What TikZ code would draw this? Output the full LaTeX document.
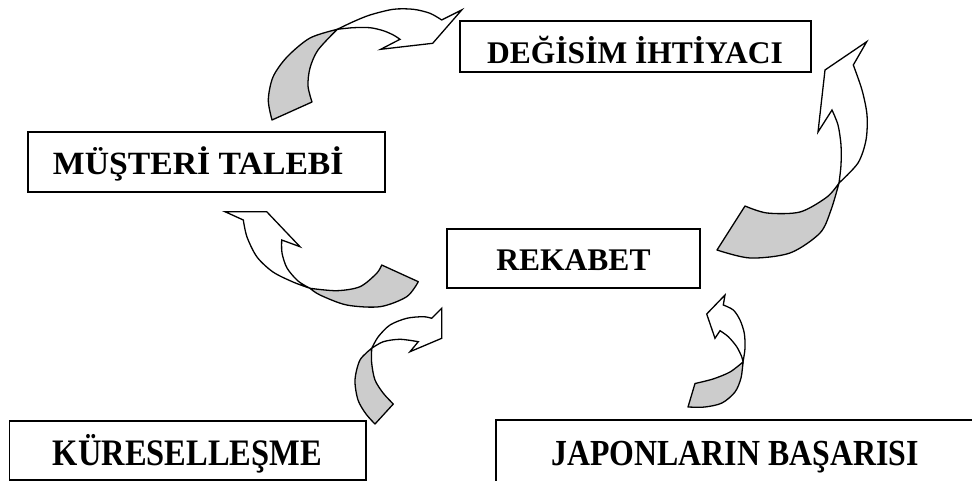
\documentclass[tikz,border=0pt]{standalone}
\usepackage{fontspec}
\setmainfont{Liberation Serif}
\definecolor{ribbon}{HTML}{CCCCCC}
\begin{document}
\begin{tikzpicture}[x=1pt,y=-1pt,
  box/.style={draw, line width=1.7pt, inner sep=0pt},
  lbl/.style={anchor=base, inner sep=0pt, font=\fontsize{31.5}{36}\selectfont\bfseries},
  tall/.style={anchor=base, inner sep=0pt, font=\fontsize{32.5}{36}\selectfont\bfseries},
  back/.style={draw, line width=1.3pt, line join=round, fill=ribbon},
  front/.style={draw, line width=1.3pt, line join=miter, fill=white}]
\clip (0,0) rectangle (972,481);

% frames
\node[box, minimum width=351pt, minimum height=51pt] (dg) at (635.5,46.5) {};
\node[box, minimum width=357pt, minimum height=60pt] (mt) at (206.5,162) {};
\node[box, minimum width=253pt, minimum height=59pt] (rk) at (573.5,258.5) {};
\node[box, minimum width=356.5pt, minimum height=59pt] (kr) at (187.75,450.5) {};
\node[box, minimum width=504pt, minimum height=90pt] (jp) at (748,465) {};

% labels
\node[lbl] (dgt) at (635,63.3) {DEĞİSİM İHTİYACI};
\node[lbl] (mtt) at (198.3,174.3) {\scalebox{1.07}[1.03]{MÜŞTERİ TALEBİ}};
\node[lbl] (rkt) at (573.5,270) {REKABET};
\node[tall] (krt) at (187.5,465) {\scalebox{1}[1.15]{KÜRESELLEŞME}};
\node[tall] (jpt) at (735,465) {\scalebox{0.98}[1.13]{JAPONLARIN BAŞARISI}};

% curved arrow: customer demand -> need for change
\path[back] (272,120) -- plot[smooth] coordinates {(312,102) (308,86) (310,68) (318,50) (337.3,29.3)}
  -- plot[smooth] coordinates {(337.3,29.3) (310,38) (287,57) (273,77) (268.3,100) (272,120)} -- cycle;
\path[front] plot[smooth] coordinates {(337.3,29.3) (353.3,21.7) (370,15) (393.3,9.3) (413.3,9.3) (430,13.3) (441.7,20)}
  -- (461.7,10) -- (432.7,43.3) -- (380.7,49.3) -- (400,39.3)
  -- plot[smooth] coordinates {(400,39.3) (393.3,35) (383.3,30.7) (370,27.7) (353.3,27.7) (337.3,29.3)} -- cycle;

% curved arrow: competition -> need for change
\path[back] (717,250) -- plot[smooth] coordinates {(745,206) (767,213) (800,212) (827,197) (839,183)}
  -- plot[smooth] coordinates {(839,183) (831,210) (820,233) (790,253) (750,258) (717,250)} -- cycle;
\path[front] plot[smooth] coordinates {(839,183) (858,163) (866,140) (867,115) (862,90) (853.3,65)}
  -- (866.7,41.7) -- (825,70) -- (818,132) -- (832,110)
  -- plot[smooth] coordinates {(832,110) (838,125) (841,145) (841,165) (839,183)} -- cycle;

% curved arrow: competition -> customer demand
\path[back] (381.7,265) -- plot[smooth] coordinates {(418.3,281.7) (406.7,296.7) (380,306.7) (346.7,305) (320,295) (310,288.3)}
  -- plot[smooth] coordinates {(310,288.3) (336.7,290.7) (360,286.7) (376.7,273.3) (381.7,265)} -- cycle;
\path[front] plot[smooth] coordinates {(310,288.3) (293,282) (273,272) (257,257) (247,237) (243.3,220)}
  -- (225,211.7) -- (266.7,211.7) -- (300,246.7) -- (281.7,240)
  -- plot[smooth] coordinates {(281.7,240) (282,253) (287,268) (298,281) (310,288.3)} -- cycle;

% curved arrow: globalisation -> competition
\path[back] (375,424) -- plot[smooth] coordinates {(393.3,404) (383.3,393.3) (375,380) (371.7,363.3) (371.7,348.3)}
  -- plot[smooth] coordinates {(371.7,348.3) (360,360) (355,380) (358,400) (366,414) (375,424)} -- cycle;
\path[front] plot[smooth] coordinates {(371.7,348.3) (378.3,336.7) (390,325) (406.7,318.3) (423.3,316.7) (431.7,318.3)}
  -- (441.7,308.3) -- (441.7,338.3) -- (410,351.7) -- (418.3,341.7)
  -- plot[smooth] coordinates {(418.3,341.7) (400,339.3) (383.3,341.7) (371.7,348.3)} -- cycle;

% curved arrow: Japanese success -> competition
\path[back] (695,383.5) -- (688,407)
  -- plot[smooth] coordinates {(688,407) (705,407) (722,403) (735,392) (741,378) (743,362)}
  -- plot[smooth] coordinates {(743,362) (730,372) (713,379) (695,383.5)} -- cycle;
\path[front] (725,295) -- (706.7,314) -- (715,338.3) -- (720,330.7)
  -- plot[smooth] coordinates {(720,330.7) (728.3,336.7) (736.7,346.7) (741.7,356.7) (743,362)}
  -- plot[smooth] coordinates {(743,362) (745,348.3) (744.3,333.3) (740,320) (733.3,310) (723.3,305)} -- cycle;
\end{tikzpicture}
\end{document}
